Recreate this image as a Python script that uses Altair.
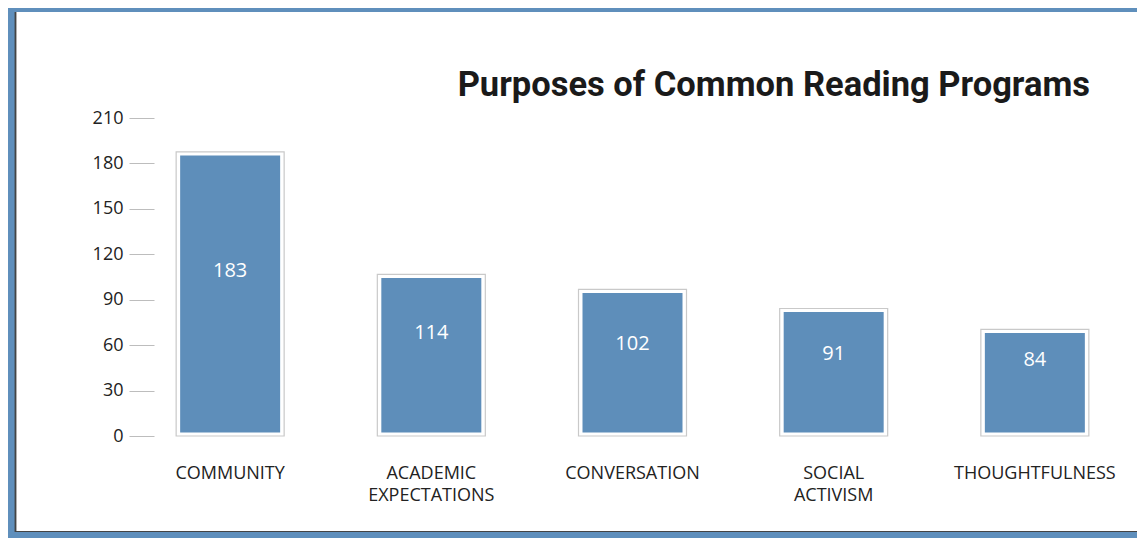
import altair as alt
import pandas as pd

categories = ["COMMUNITY", "ACADEMIC|EXPECTATIONS", "CONVERSATION", "SOCIAL|ACTIVISM", "THOUGHTFULNESS"]
bar_heights = [187.6, 106.7, 96.8, 84.2, 70.4]
value_labels = [183, 114, 102, 91, 84]
y_ticks = [0, 30, 60, 90, 120, 150, 180, 210]
title_text = "Purposes of Common Reading Programs"

df = pd.DataFrame({"cat": categories, "h": bar_heights, "lab": value_labels})

W, H = 957, 318
PL, PT, PR, PB = 146, 110, 26, 102
FRAME = "#5f8fbc"
BLUE = "#5e8eba"

xenc = alt.X("cat:N", sort=None, title=None,
             scale=alt.Scale(paddingInner=0.463, paddingOuter=0.11),
             axis=alt.Axis(labelExpr="split(datum.label, '|')", labelFont="Open Sans",
                           labelFontSize=18, labelColor="#222222", labelAngle=0,
                           ticks=False, tickSize=0, domain=False, labelPadding=28,
                           labelLineHeight=22, zindex=1))
yenc = alt.Y("h:Q", title=None,
             scale=alt.Scale(domain=[0, 210], nice=False, zero=True),
             axis=alt.Axis(values=y_ticks, tickSize=25, tickColor="#bdbdbd", tickWidth=1,
                           domain=False, grid=False, labelFont="Open Sans", labelFontSize=18,
                           labelColor="#222222", labelPadding=6, zindex=1))

base = alt.Chart(df)

# white page panel inside the blue frame
panel = base.mark_rect(color="white").encode(
    x=alt.value(7 - PL), x2=alt.value(W + PR),
    y=alt.value(4 - PT), y2=alt.value(524 - PT))
edge_left = base.mark_rule(color="#444444", strokeWidth=1.2).encode(
    x=alt.value(7.5 - PL), y=alt.value(4 - PT), y2=alt.value(524 - PT))
edge_bottom = base.mark_rule(color="#444444", strokeWidth=1.2).encode(
    x=alt.value(7 - PL), x2=alt.value(W + PR), y=alt.value(523.5 - PT))

outer = base.mark_bar(size=108, fill="white", stroke="#c9c9c9", strokeWidth=1.2).encode(
    x=xenc, y=yenc, y2=alt.datum(0))
inner = base.mark_bar(size=100, color=BLUE, yOffset=3.5, y2Offset=-3.5).encode(
    x=alt.X("cat:N", sort=None), y=alt.Y("h:Q"), y2=alt.datum(0))
labels = base.transform_calculate(ly="datum.lab * 0.595").mark_text(
    color="white", font="Open Sans", fontSize=20, baseline="middle", align="center").encode(
    x=alt.X("cat:N", sort=None), y=alt.Y("ly:Q"), text=alt.Text("lab:Q"))

title = base.transform_filter("datum.cat == 'COMMUNITY'").mark_text(
    text=title_text, font="Roboto", fontSize=34.5,
    fontWeight="bold", color="#1a1a1a", align="right", baseline="alphabetic").encode(
    x=alt.value(936), y=alt.value(-22))

chart = alt.layer(panel, edge_left, edge_bottom, outer, inner, labels, title).properties(
    width=W, height=H,
    padding={"left": PL, "top": PT, "right": PR, "bottom": PB},
    autosize=alt.AutoSizeParams(type="none"),
    background=FRAME,
).configure_view(stroke=None)

chart.save("out.html", embed_options={"renderer": "svg", "actions": False})
